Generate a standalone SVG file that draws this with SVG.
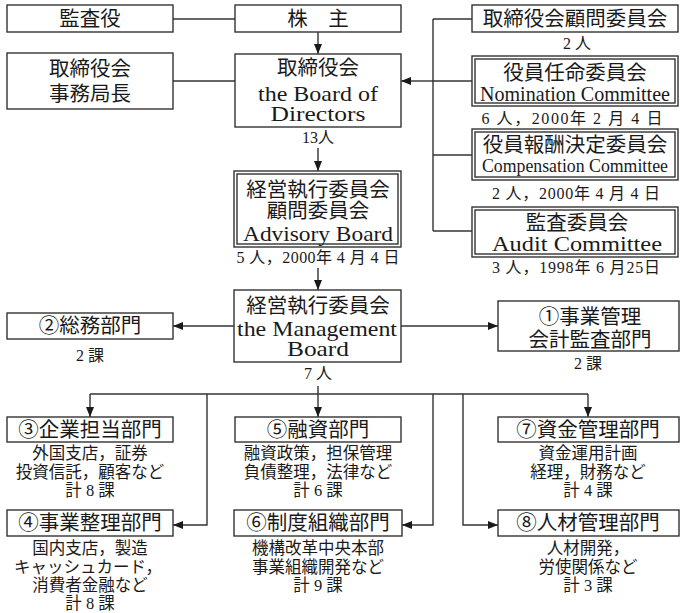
<svg xmlns="http://www.w3.org/2000/svg" width="681" height="613" viewBox="0 0 681 613">
<style>
text{font-family:"Liberation Serif","Noto Sans CJK JP",serif;fill:#1a1a1a;text-anchor:middle}
.t{font-size:20.5px}
.e{font-size:22px}
.s{font-size:16px}
.b{font-size:16.5px}
.box{fill:#fff;stroke:#333;stroke-width:1.4}
.ln{fill:none;stroke:#333;stroke-width:1.4}
</style>
<defs>
<marker id="ah" viewBox="0 0 10 8" refX="10" refY="4" markerWidth="10" markerHeight="8" markerUnits="userSpaceOnUse" orient="auto">
<path d="M0,0 L10,4 L0,8 Z" fill="#1a1a1a"/>
</marker>
</defs>
<rect width="681" height="613" fill="#fff"/>
<g id="connectors">
<line class="ln" x1="173" y1="19" x2="235" y2="19"/>
<line class="ln" x1="318" y1="32" x2="318" y2="54" marker-end="url(#ah)"/>
<line class="ln" x1="173" y1="81" x2="235" y2="81"/>
<line class="ln" x1="433" y1="19" x2="433" y2="231"/>
<line class="ln" x1="433" y1="19" x2="472" y2="19"/>
<line class="ln" x1="433" y1="81" x2="472" y2="81"/>
<line class="ln" x1="433" y1="155" x2="472" y2="155"/>
<line class="ln" x1="433" y1="231" x2="472" y2="231"/>
<line class="ln" x1="433" y1="81" x2="401" y2="81" marker-end="url(#ah)"/>
<line class="ln" x1="318" y1="148" x2="318" y2="171" marker-end="url(#ah)"/>
<line class="ln" x1="318" y1="268" x2="318" y2="290" marker-end="url(#ah)"/>
<line class="ln" x1="234" y1="326" x2="173" y2="326" marker-end="url(#ah)"/>
<line class="ln" x1="401" y1="326" x2="498" y2="326" marker-end="url(#ah)"/>
<line class="ln" x1="318" y1="386" x2="318" y2="417" marker-end="url(#ah)"/>
<line class="ln" x1="90" y1="394" x2="588" y2="394"/>
<line class="ln" x1="90" y1="394" x2="90" y2="417" marker-end="url(#ah)"/>
<line class="ln" x1="588" y1="394" x2="588" y2="417" marker-end="url(#ah)"/>
<polyline class="ln" points="207,394 207,525 173,525" marker-end="url(#ah)"/>
<polyline class="ln" points="433,394 433,525 402,525" marker-end="url(#ah)"/>
<polyline class="ln" points="463,394 463,525 498,525" marker-end="url(#ah)"/>
</g>
<g id="kansayaku">
<rect class="box" x="7" y="5" width="166" height="27"/>
<text class="t" x="90" y="26">監査役</text>
</g>
<g id="kabunushi">
<rect class="box" x="235" y="5" width="166" height="27"/>
<text class="t" x="318" y="26">株　主</text>
</g>
<g id="jimukyokucho">
<rect class="box" x="7" y="53" width="166" height="56"/>
<text class="t" x="90" y="76">取締役会</text>
<text class="t" x="90" y="101">事務局長</text>
</g>
<g id="board">
<rect class="box" x="235" y="54" width="166" height="73"/>
<text class="t" x="318" y="75">取締役会</text>
<text class="e" x="318" y="101" textLength="120" lengthAdjust="spacingAndGlyphs">the Board of</text>
<text class="e" x="318" y="121" textLength="95" lengthAdjust="spacingAndGlyphs">Directors</text>
<text class="s" x="318" y="143">13人</text>
</g>
<g id="komon">
<rect class="box" x="472" y="5" width="206" height="27"/>
<text class="t" x="575" y="26">取締役会顧問委員会</text>
<text class="s" x="577" y="49">2 人</text>
</g>
<g id="nomination">
<rect class="box" x="472" y="56" width="206" height="50"/>
<rect class="box" x="475" y="59" width="200" height="44"/>
<text class="t" x="575" y="80">役員任命委員会</text>
<text x="575" y="101" font-size="21" textLength="190" lengthAdjust="spacingAndGlyphs">Nomination Committee</text>
<text class="s" x="572" y="124" textLength="181" lengthAdjust="spacing">6 人，2000年 2 月 4 日</text>
</g>
<g id="compensation">
<rect class="box" x="472" y="129" width="206" height="51"/>
<rect class="box" x="475" y="132" width="200" height="45"/>
<text class="t" x="575" y="152">役員報酬決定委員会</text>
<text x="575" y="172" font-size="19.5" textLength="186" lengthAdjust="spacingAndGlyphs">Compensation Committee</text>
<text class="s" x="576" y="199" textLength="168" lengthAdjust="spacing">2 人，2000年 4 月 4 日</text>
</g>
<g id="audit">
<rect class="box" x="472" y="207" width="206" height="50"/>
<rect class="box" x="475" y="210" width="200" height="44"/>
<text class="t" x="577" y="230">監査委員会</text>
<text class="e" x="577" y="251" textLength="170" lengthAdjust="spacingAndGlyphs">Audit Committee</text>
<text class="s" x="576" y="273" textLength="168" lengthAdjust="spacing">3 人，1998年 6 月25日</text>
</g>
<g id="advisory">
<rect class="box" x="234" y="171" width="167" height="76"/>
<rect class="box" x="237" y="174" width="161" height="70"/>
<text class="t" x="318" y="197">経営執行委員会</text>
<text class="t" x="318" y="218">顧問委員会</text>
<text class="e" x="318" y="241" textLength="150" lengthAdjust="spacingAndGlyphs">Advisory Board</text>
<text class="s" x="318" y="263" textLength="163" lengthAdjust="spacing">5 人，2000年 4 月 4 日</text>
</g>
<g id="management">
<rect class="box" x="234" y="290" width="167" height="72"/>
<text class="t" x="318" y="313">経営執行委員会</text>
<text class="e" x="317" y="336" textLength="160" lengthAdjust="spacingAndGlyphs">the Management</text>
<text class="e" x="318" y="356" textLength="62" lengthAdjust="spacingAndGlyphs">Board</text>
<text class="s" x="318" y="379">7 人</text>
</g>
<g id="somu">
<rect class="box" x="7" y="313" width="166" height="26"/>
<text class="t" x="90" y="333">②総務部門</text>
<text class="s" x="90" y="361">2 課</text>
</g>
<g id="jigyokanri">
<rect class="box" x="498" y="301" width="181" height="50"/>
<text class="t" x="590" y="324">①事業管理</text>
<text class="t" x="590" y="347">会計監査部門</text>
<text class="s" x="588" y="369">2 課</text>
</g>
<g id="kigyo">
<rect class="box" x="7" y="417" width="166" height="25"/>
<text class="t" x="90" y="437">③企業担当部門</text>
<text class="b" x="90" y="459">外国支店，証券</text>
<text class="b" x="90" y="478">投資信託，顧客など</text>
<text class="b" x="90" y="496">計 8 課</text>
</g>
<g id="yushi">
<rect class="box" x="235" y="417" width="166" height="25"/>
<text class="t" x="318" y="437">⑤融資部門</text>
<text class="b" x="318" y="459">融資政策，担保管理</text>
<text class="b" x="318" y="478">負債整理，法律など</text>
<text class="b" x="318" y="496">計 6 課</text>
</g>
<g id="shikin">
<rect class="box" x="498" y="417" width="181" height="25"/>
<text class="t" x="588" y="437">⑦資金管理部門</text>
<text class="b" x="588" y="459">資金運用計画</text>
<text class="b" x="588" y="478">経理，財務など</text>
<text class="b" x="588" y="496">計 4 課</text>
</g>
<g id="jigyoseiri">
<rect class="box" x="7" y="510" width="166" height="26"/>
<text class="t" x="90" y="530">④事業整理部門</text>
<text class="b" x="90" y="554">国内支店，製造</text>
<text class="b" x="88" y="573">キャッシュカード，</text>
<text class="b" x="90" y="591">消費者金融など</text>
<text class="b" x="90" y="609">計 8 課</text>
</g>
<g id="seido">
<rect class="box" x="234" y="510" width="168" height="26"/>
<text class="t" x="318" y="530">⑥制度組織部門</text>
<text class="b" x="318" y="554">機構改革中央本部</text>
<text class="b" x="318" y="573">事業組織開発など</text>
<text class="b" x="318" y="591">計 9 課</text>
</g>
<g id="jinzai">
<rect class="box" x="498" y="510" width="181" height="26"/>
<text class="t" x="588" y="530">⑧人材管理部門</text>
<text class="b" x="588" y="554">人材開発，</text>
<text class="b" x="588" y="573">労使関係など</text>
<text class="b" x="588" y="591">計 3 課</text>
</g>
</svg>
